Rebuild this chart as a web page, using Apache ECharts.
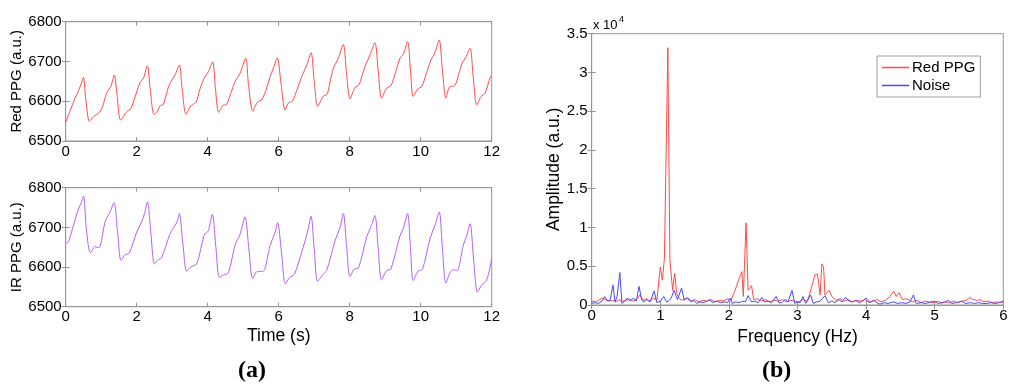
<!DOCTYPE html>
<html><head><meta charset="utf-8">
<script src="https://cdn.jsdelivr.net/npm/echarts/dist/echarts.min.js"></script>
<style>html,body{margin:0;padding:0;background:#fff}#c{width:1024px;height:391px}</style>
</head><body><div id="c"></div><script>
// ---------- data ----------
const timeAxis = [0, 12, 2];          // min, max, step (s)
const ppgAxis = [6500, 6800, 100];    // min, max, step (a.u.)
const freqAxis = [0, 6, 1];           // Hz
const ampAxis = [0, 35000, 5000];     // a.u.

const redPPG = [
[0.00,6547],[0.12,6575],[0.26,6607],[0.36,6626],[0.44,6645],[0.50,6660],[0.56,6610],[0.67,6550],[0.78,6561],[0.95,6572],[1.04,6587],[1.15,6620],[1.27,6637],[1.37,6666],[1.44,6620],[1.55,6553],[1.72,6574],[1.83,6581],[1.95,6610],[2.09,6646],[2.19,6658],[2.30,6689],[2.38,6630],[2.49,6567],[2.58,6574],[2.66,6589],[2.75,6592],[2.84,6620],[2.94,6646],[3.08,6666],[3.20,6691],[3.28,6630],[3.39,6567],[3.50,6585],[3.58,6592],[3.67,6597],[3.78,6630],[3.90,6658],[4.02,6674],[4.14,6699],[4.22,6630],[4.31,6572],[4.42,6589],[4.53,6592],[4.65,6620],[4.77,6649],[4.91,6670],[5.07,6708],[5.15,6640],[5.27,6575],[5.35,6590],[5.43,6600],[5.52,6603],[5.65,6630],[5.75,6660],[5.85,6683],[5.96,6709],[6.06,6649],[6.18,6578],[6.27,6595],[6.39,6601],[6.52,6630],[6.65,6662],[6.79,6691],[6.91,6722],[7.00,6650],[7.10,6587],[7.26,6613],[7.36,6617],[7.45,6650],[7.54,6683],[7.68,6708],[7.82,6743],[7.91,6670],[8.01,6606],[8.15,6635],[8.26,6641],[8.35,6665],[8.43,6687],[8.57,6716],[8.71,6747],[8.80,6680],[8.90,6608],[9.04,6633],[9.16,6639],[9.30,6675],[9.42,6709],[9.51,6718],[9.63,6750],[9.71,6680],[9.79,6612],[9.92,6631],[10.03,6637],[10.16,6670],[10.29,6704],[10.40,6722],[10.52,6754],[10.61,6680],[10.71,6608],[10.80,6635],[10.87,6637],[10.97,6640],[11.07,6668],[11.17,6696],[11.27,6710],[11.39,6733],[11.48,6660],[11.58,6591],[11.70,6612],[11.81,6620],[11.95,6658],[12.00,6666]
];

const irPPG = [
[0.00,6661],[0.07,6663],[0.22,6705],[0.36,6747],[0.44,6762],[0.50,6779],[0.59,6688],[0.70,6636],[0.83,6652],[0.89,6649],[0.97,6652],[1.11,6714],[1.25,6739],[1.36,6762],[1.46,6690],[1.56,6617],[1.67,6631],[1.79,6635],[2.00,6688],[2.14,6714],[2.22,6735],[2.30,6764],[2.40,6685],[2.50,6608],[2.61,6619],[2.70,6623],[2.94,6684],[3.08,6705],[3.14,6715],[3.20,6735],[3.30,6660],[3.41,6589],[3.52,6600],[3.69,6608],[3.90,6680],[4.02,6692],[4.13,6733],[4.23,6650],[4.33,6574],[4.44,6580],[4.58,6585],[4.77,6655],[4.91,6682],[5.05,6726],[5.16,6645],[5.27,6571],[5.40,6589],[5.55,6589],[5.76,6655],[5.90,6688],[5.97,6712],[6.08,6635],[6.19,6558],[6.32,6575],[6.44,6581],[6.69,6650],[6.82,6692],[6.91,6728],[7.00,6645],[7.10,6564],[7.26,6583],[7.35,6591],[7.59,6667],[7.73,6700],[7.82,6735],[7.91,6655],[8.01,6576],[8.13,6595],[8.25,6598],[8.48,6676],[8.62,6707],[8.71,6730],[8.80,6650],[8.90,6568],[9.04,6591],[9.16,6595],[9.42,6680],[9.51,6697],[9.63,6735],[9.71,6650],[9.79,6566],[9.93,6590],[10.05,6594],[10.26,6671],[10.40,6705],[10.52,6739],[10.61,6650],[10.71,6560],[10.83,6587],[10.92,6593],[11.02,6591],[11.20,6655],[11.30,6680],[11.39,6709],[11.49,6620],[11.60,6537],[11.72,6555],[11.86,6567],[12.00,6622]
];

const redSpectrum = [
[0.00,500],[0.05,400],[0.10,600],[0.15,900],[0.20,700],[0.25,500],[0.30,600],[0.35,400],[0.40,700],[0.45,500],[0.50,600],[0.55,800],[0.60,500],[0.65,700],[0.70,1300],[0.75,600],[0.80,800],[0.85,500],[0.90,900],[0.95,600],[1.00,4900],[1.03,3200],[1.06,6000],[1.08,5800],[1.11,33200],[1.14,5800],[1.18,1900],[1.21,4100],[1.24,1500],[1.28,800],[1.32,600],[1.38,900],[1.44,500],[1.50,700],[1.56,400],[1.62,600],[1.68,500],[1.74,700],[1.80,400],[1.86,600],[1.92,500],[1.98,800],[2.03,600],[2.09,1900],[2.14,3200],[2.19,4300],[2.21,1100],[2.25,10600],[2.28,1900],[2.33,2500],[2.36,700],[2.42,800],[2.48,500],[2.54,700],[2.60,400],[2.66,600],[2.72,500],[2.78,700],[2.84,400],[2.90,600],[2.96,500],[3.02,400],[3.08,700],[3.14,500],[3.18,1500],[3.22,2800],[3.255,3900],[3.29,4000],[3.33,1300],[3.355,5300],[3.38,4900],[3.40,1300],[3.46,1900],[3.50,1100],[3.56,600],[3.62,800],[3.68,500],[3.74,700],[3.80,400],[3.86,600],[3.92,500],[3.98,700],[4.04,400],[4.10,500],[4.16,700],[4.22,400],[4.28,600],[4.35,1100],[4.40,1800],[4.44,1100],[4.48,1600],[4.53,700],[4.58,800],[4.62,700],[4.68,400],[4.74,600],[4.80,300],[4.86,500],[4.92,400],[4.98,300],[5.04,500],[5.10,300],[5.16,400],[5.22,300],[5.28,500],[5.34,300],[5.40,500],[5.46,600],[5.51,1000],[5.56,700],[5.62,600],[5.66,700],[5.72,400],[5.78,500],[5.84,300],[5.90,400],[5.96,300],[6.00,400]
];

const noiseSpectrum = [
[0.00,200],[0.05,300],[0.10,200],[0.15,500],[0.19,1100],[0.23,500],[0.27,700],[0.31,2600],[0.34,400],[0.37,1100],[0.41,4200],[0.44,200],[0.48,500],[0.52,900],[0.56,500],[0.61,900],[0.65,500],[0.69,2400],[0.73,600],[0.77,400],[0.80,700],[0.85,400],[0.91,1800],[0.95,300],[1.00,500],[1.05,1100],[1.09,400],[1.12,500],[1.16,900],[1.20,1900],[1.25,700],[1.31,2200],[1.35,600],[1.38,900],[1.41,900],[1.45,400],[1.49,600],[1.53,200],[1.58,400],[1.63,300],[1.68,500],[1.72,700],[1.76,300],[1.82,500],[1.88,300],[1.94,400],[1.98,300],[2.02,900],[2.05,200],[2.10,400],[2.15,300],[2.20,500],[2.24,400],[2.28,1200],[2.33,400],[2.38,500],[2.43,300],[2.48,1000],[2.52,400],[2.57,500],[2.62,300],[2.69,1100],[2.73,300],[2.77,300],[2.82,700],[2.86,400],[2.92,1900],[2.96,200],[3.00,400],[3.04,300],[3.08,1100],[3.12,200],[3.15,600],[3.19,1300],[3.23,200],[3.28,400],[3.33,500],[3.40,1200],[3.45,300],[3.50,500],[3.55,300],[3.60,700],[3.65,400],[3.70,1000],[3.75,500],[3.80,400],[3.85,600],[3.90,300],[3.95,500],[4.00,900],[4.05,300],[4.11,600],[4.16,300],[4.20,100],[4.26,300],[4.32,200],[4.40,400],[4.46,200],[4.52,300],[4.58,200],[4.64,400],[4.69,1300],[4.73,200],[4.80,300],[4.86,200],[4.92,300],[4.99,500],[5.05,200],[5.12,300],[5.20,600],[5.25,200],[5.32,300],[5.39,500],[5.45,200],[5.52,300],[5.58,200],[5.64,300],[5.70,200],[5.76,200],[5.82,300],[5.88,200],[5.94,300],[6.00,500]
];

// ---------- chart ----------
const FONT = '"Liberation Sans", Arial, sans-serif';
const AX = '#969696';
const RED = '#ff4a4a', PURPLE = '#b45ef5', BLUE = '#4a4aff';

function xPair(gi, r, name, gap) {
  const base = {type:'value', gridIndex:gi, min:r[0], max:r[1], interval:r[2],
    axisLine:{lineStyle:{color:AX, width:1}}, splitLine:{show:false},
    axisTick:{inside:true, length:4, lineStyle:{color:AX}}};
  return [
    Object.assign({}, base, {position:'bottom',
      axisLabel:{color:'#000', fontSize:15, fontFamily:FONT, margin:3},
      name:name||'', nameLocation:'middle', nameGap:gap||0,
      nameTextStyle:{color:'#000', fontSize:17.5, fontFamily:FONT}}),
    Object.assign({}, base, {position:'top', axisLabel:{show:false}})
  ];
}
function yPair(gi, r, name, gap, fmt, nameSize) {
  const base = {type:'value', gridIndex:gi, min:r[0], max:r[1], interval:r[2],
    axisLine:{lineStyle:{color:AX, width:1}}, splitLine:{show:false},
    axisTick:{inside:true, length:4, lineStyle:{color:AX}}};
  return [
    Object.assign({}, base, {position:'left',
      axisLabel:{color:'#000', fontSize:15, fontFamily:FONT, margin:4, formatter:fmt},
      name:name, nameLocation:'middle', nameGap:gap, nameRotate:90,
      nameTextStyle:{color:'#000', fontSize:nameSize, fontFamily:FONT}}),
    Object.assign({}, base, {position:'right', axisLabel:{show:false}})
  ];
}

const xa = [].concat(xPair(0, timeAxis), xPair(1, timeAxis, 'Time (s)', 20), xPair(2, freqAxis, 'Frequency (Hz)', 21));
const ya = [].concat(
  yPair(0, ppgAxis, 'Red PPG (a.u.)', 41, v => String(v), 15),
  yPair(1, ppgAxis, 'IR PPG (a.u.)', 41, v => String(v), 15),
  yPair(2, ampAxis, 'Amplitude (a.u.)', 27, v => String(v / 10000), 17.5));

const option = {
  animation:false,
  backgroundColor:'#fff',
  grid:[
    {left:65.7, top:21.7, width:426, height:119.3, show:true, borderColor:AX, borderWidth:1},
    {left:65.7, top:187.7, width:426, height:119, show:true, borderColor:AX, borderWidth:1},
    {left:591.7, top:33.7, width:411.6, height:271.3, show:true, borderColor:AX, borderWidth:1}
  ],
  xAxis: xa,
  yAxis: ya,
  legend:{
    data:[{name:'Red PPG', icon:'rect', itemStyle:{color:RED}}, {name:'Noise', icon:'rect', itemStyle:{color:BLUE}}],
    orient:'vertical', left:877, top:56,
    backgroundColor:'#fff', borderColor:'#a0a0a0', borderWidth:1,
    padding:[4,5,4,5], itemGap:3, itemWidth:27, itemHeight:1.5,
    textStyle:{color:'#000', fontSize:15, fontFamily:FONT, padding:[0,0,0,-2]}
  },
  series:[
    {name:'Red PPG (a)', type:'line', xAxisIndex:0, yAxisIndex:0, data:redPPG, symbol:'none', smooth:0.3,
      lineStyle:{color:RED, width:1}},
    {name:'IR PPG', type:'line', xAxisIndex:2, yAxisIndex:2, data:irPPG, symbol:'none', smooth:0.3,
      lineStyle:{color:PURPLE, width:1}},
    {name:'Red PPG', type:'line', xAxisIndex:4, yAxisIndex:4, data:redSpectrum, symbol:'none',
      lineStyle:{color:RED, width:1}, itemStyle:{color:RED}},
    {name:'Noise', type:'line', xAxisIndex:4, yAxisIndex:4, data:noiseSpectrum, symbol:'none',
      lineStyle:{color:BLUE, width:1}, itemStyle:{color:BLUE}}
  ],
  graphic:[
    {type:'text', left:593, top:19, style:{text:'x 10', fontSize:13, fontFamily:FONT, fill:'#000'}},
    {type:'text', left:619, top:15, style:{text:'4', fontSize:9, fontFamily:FONT, fill:'#000'}},
    {type:'text', left:238, top:359, style:{text:'(a)', fontSize:24, fontWeight:'bold', fontFamily:'"Liberation Serif", "Times New Roman", serif', fill:'#000'}},
    {type:'text', left:762, top:359, style:{text:'(b)', fontSize:24, fontWeight:'bold', fontFamily:'"Liberation Serif", "Times New Roman", serif', fill:'#000'}}
  ]
};
const chart = echarts.init(document.getElementById('c'), null, {renderer:'canvas'});
chart.setOption(option);
</script></body></html>
